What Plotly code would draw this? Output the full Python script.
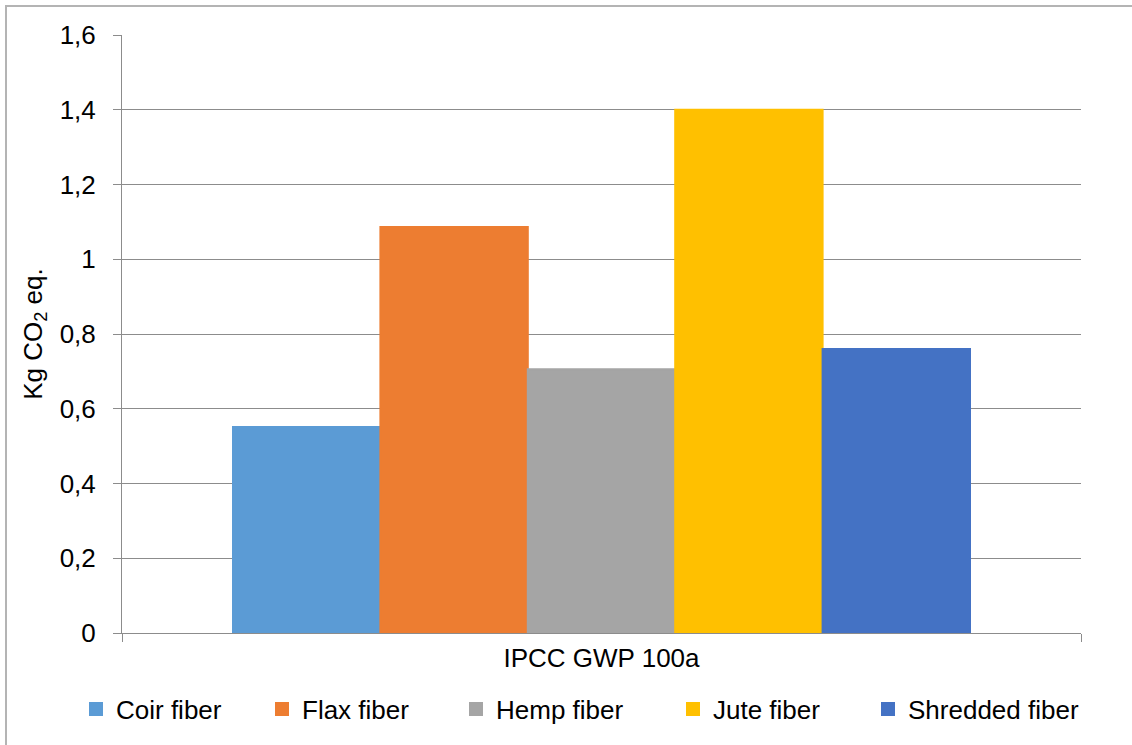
import plotly.graph_objects as go

# Global warming potential per fibre type (kg CO2 eq.)
category = ["IPCC GWP 100a"]
fibers = ["Coir fiber", "Flax fiber", "Hemp fiber", "Jute fiber", "Shredded fiber"]
gwp_values = [0.551, 1.086, 0.706, 1.400, 0.760]
bar_colors = ["#5B9BD5", "#ED7D31", "#A5A5A5", "#FFC000", "#4472C4"]
y_ticks = [0, 0.2, 0.4, 0.6, 0.8, 1.0, 1.2, 1.4, 1.6]

FONT = "Liberation Sans, Arial, sans-serif"
W, H = 1132, 745
ML, MR, MT, MB = 122, 51, 35, 112
PW, PH = W - ML - MR, H - MT - MB

# left pixel position of each legend swatch
legend_px = [93, 279, 473, 690, 885]

fig = go.Figure()
legend_layouts = {}
for i, (name, val, col) in enumerate(zip(fibers, gwp_values, bar_colors)):
    key = "legend" if i == 0 else f"legend{i + 1}"
    fig.add_trace(go.Bar(
        x=category, y=[val], name=name,
        marker=dict(color=col, line=dict(color=col, width=2)),
        legend=key,
    ))
    legend_layouts[key] = dict(
        x=(legend_px[i] - 17 - ML) / PW, xanchor="left",
        y=(MT + PH - 709) / PH, yanchor="middle",
        font=dict(family=FONT, size=26, color="#000000"),
        bgcolor="rgba(0,0,0,0)", borderwidth=0,
        itemwidth=30, tracegroupgap=0,
    )

fig.update_layout(
    width=W, height=H,
    margin=dict(l=ML, r=MR, t=MT, b=MB),
    paper_bgcolor="#ffffff", plot_bgcolor="#ffffff",
    separators=",.",
    barmode="group", bargap=0.2315, bargroupgap=0,
    font=dict(family=FONT, size=26, color="#000000"),
    showlegend=True,
    **legend_layouts,
    xaxis=dict(
        range=[-0.5, 0.5],
        showgrid=False, showline=True, linecolor="#8c8c8c", linewidth=1,
        ticks="outside", tickson="boundaries", ticklen=8, tickcolor="#8c8c8c",
        tickfont=dict(family=FONT, size=26, color="#000000"),
        ticklabelstandoff=2,
    ),
    yaxis=dict(
        range=[0, 1.6], tickvals=y_ticks,
        showgrid=True, gridcolor="#8c8c8c", gridwidth=1,
        showline=True, linecolor="#8c8c8c", linewidth=1,
        ticks="outside", ticklen=8, tickcolor="#8c8c8c",
        tickfont=dict(family=FONT, size=26, color="#000000"),
        ticklabelstandoff=12,
        zeroline=False,
        title=dict(text="Kg CO<sub>2</sub> eq.", font=dict(family=FONT, size=26, color="#000000"), standoff=9),
    ),
    shapes=[dict(
        type="rect", xref="paper", yref="paper", layer="below",
        x0=(6 - ML) / PW, x1=1.2, y0=-0.4, y1=(MT + PH - 6) / PH,
        line=dict(color="#b4b4b4", width=2), fillcolor="rgba(0,0,0,0)",
    )],
)

fig.write_html("out.html")
